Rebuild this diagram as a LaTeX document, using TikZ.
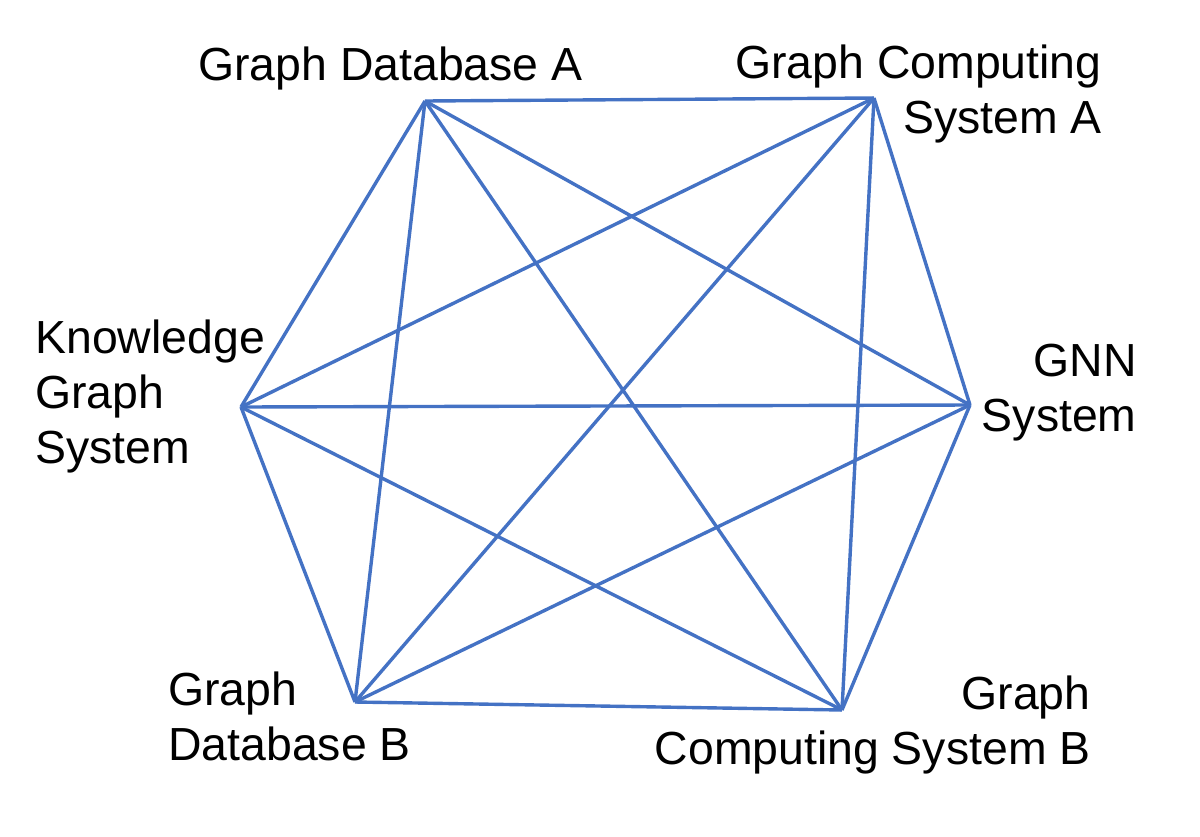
\documentclass[tikz,border=0pt]{standalone}
\usepackage{fontspec}
\setmainfont{Liberation Sans}
\usetikzlibrary{positioning}
\definecolor{edgeblue}{RGB}{68,114,196}

\begin{document}
\begin{tikzpicture}[x=0.5pt, y=-0.5pt]
			\tikzstyle{lbl} = [inner sep=0pt, font=\fontsize{23.2}{27.5}\selectfont]
			\tikzstyle{edge} = [draw, edgeblue, line width=1.7pt]
			
			\useasboundingbox (0,0) rectangle (1200,836);
			
			% corners of the hexagon
			\coordinate (gda) at (425,101);
			\coordinate (gcsa) at (874,98);
			\coordinate (gnn) at (970,405);
			\coordinate (gcsb) at (842,710);
			\coordinate (gdb) at (355,702);
			\coordinate (kgs) at (241,407);
			
			% every system linked to every other
			\foreach \a/\b in {gda/gcsa, gda/gnn, gda/gcsb, gda/gdb, gda/kgs,
				gcsa/gnn, gcsa/gcsb, gcsa/gdb, gcsa/kgs,
				gnn/gcsb, gnn/gdb, gnn/kgs,
				gcsb/gdb, gcsb/kgs,
				gdb/kgs}
				\path [edge] (\a) -- (\b);
			
			% labels (base = baseline of the last line)
			\node [lbl, anchor=base west] (gdalbl) at (198,80) {Graph Database A};
			\node [lbl, anchor=base east, align=right] (gcsalbl) at (1102,133) {Graph Computing\\System A};
			\node [lbl, anchor=base east, align=right] (gnnlbl) at (1137,431) {GNN\\System};
			\node [lbl, anchor=base west, align=left] (kgslbl) at (35,463) {Knowledge\\Graph\\System};
			\node [lbl, anchor=base west, align=left] (gdblbl) at (168,760) {Graph\\Database B};
			\node [lbl, anchor=base east, align=right] (gcsblbl) at (1091,764) {Graph\\Computing System B};
\end{tikzpicture}
\end{document}
